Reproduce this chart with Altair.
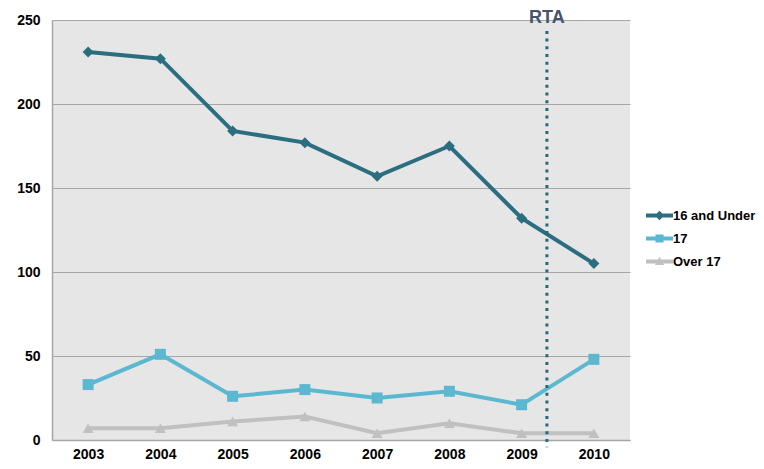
import altair as alt
import pandas as pd

years = [2003, 2004, 2005, 2006, 2007, 2008, 2009, 2010]
series_names = ["16 and Under", "17", "Over 17"]
under16 = [231, 227, 184, 177, 157, 175, 132, 105]
age17 = [33, 51, 26, 30, 25, 29, 21, 48]
over17 = [7, 7, 11, 14, 4, 10, 4, 4]
colors = ["#2a6e80", "#5bb8d0", "#c0c0c0"]
marker_shapes = ["diamond", "square", "triangle-up"]
legend_shapes = [
    "M-1,-0.15H1V0.15H-1Z M0,-0.36L0.36,0L0,0.36L-0.36,0Z",
    "M-1,-0.15H1V0.15H-1Z M-0.3,-0.3H0.3V0.3H-0.3Z",
    "M-1,-0.15H1V0.15H-1Z M0,-0.36L0.34,0.26L-0.34,0.26Z",
]
rta_x = 2009.35
rta_top = 243.5
rta_bottom = -4.3

rows = []
for name, vals in zip(series_names, [under16, age17, over17]):
    for y, v in zip(years, vals):
        rows.append({"year": y, "value": v, "series": name})
df = pd.DataFrame(rows)

legend_df = pd.DataFrame({"year": [2003] * 3, "value": [-500] * 3, "series": series_names})
rta_df = pd.DataFrame({"x": [rta_x], "y": [rta_top], "y2": [rta_bottom], "label": ["RTA"]})

xscale = alt.Scale(domain=[2002.5, 2010.5], nice=False, zero=False)
yscale = alt.Scale(domain=[0, 250], nice=False)
cscale = alt.Scale(domain=series_names, range=colors)

x_enc = alt.X("year:Q", scale=xscale, title=None,
              axis=alt.Axis(values=years, format="d", grid=False, ticks=False,
                            labelPadding=7))
y_enc = alt.Y("value:Q", scale=yscale, title=None,
              axis=alt.Axis(values=[0, 50, 100, 150, 200, 250], ticks=False,
                            labelPadding=12))

lines = alt.Chart(df).mark_line(strokeWidth=4).encode(
    x=x_enc, y=y_enc,
    color=alt.Color("series:N", scale=cscale, legend=None),
    detail="series:N",
)

points = alt.Chart(df).mark_point(filled=True, size=121, opacity=1).encode(
    x="year:Q", y="value:Q",
    color=alt.Color("series:N", scale=cscale, legend=None),
    shape=alt.Shape("series:N", scale=alt.Scale(domain=series_names, range=marker_shapes), legend=None),
)

legend_props = dict(title=None, orient="none", legendX=594, legendY=182,
                    symbolSize=729, labelFont="Liberation Sans",
                    labelFontWeight="bold", labelFontSize=13,
                    labelColor="#000000", labelOffset=0, rowPadding=2,
                    padding=0, symbolStrokeWidth=0)

legend_layer = alt.Chart(legend_df).mark_point(filled=True, clip=True, opacity=1).encode(
    x="year:Q", y="value:Q",
    color=alt.Color("series:N", scale=alt.Scale(domain=series_names, range=colors),
                    legend=alt.Legend(**legend_props)),
    shape=alt.Shape("series:N", scale=alt.Scale(domain=series_names, range=legend_shapes),
                    legend=alt.Legend(**legend_props)),
)

rta_rule = alt.Chart(rta_df).mark_rule(color="#24687a", strokeWidth=3, strokeDash=[3, 4.7]).encode(
    x="x:Q", y="y:Q", y2="y2:Q"
)

rta_text = alt.Chart(rta_df).mark_text(
    font="Liberation Sans", fontWeight="bold", fontSize=18, color="#44546a",
    baseline="alphabetic", align="center", dy=2.5
).encode(x="x:Q", y=alt.value(0), text="label:N")

chart = alt.layer(lines, points, legend_layer, rta_rule, rta_text).resolve_scale(
    shape="independent", color="independent"
).properties(
    width=578, height=420,
    autosize=alt.AutoSizeParams(type="none"),
    padding={"left": 44, "top": 12, "right": 126, "bottom": 21},
    background="#ffffff",
).configure_view(
    fill="#e6e6e6", stroke=None
).configure_axis(
    domainColor="#a6a6a6", domainWidth=1.5, gridColor="#a6a6a6", gridWidth=1.2,
    labelFont="Liberation Sans", labelFontWeight="bold", labelFontSize=14,
    labelColor="#000000",
)

chart.save("out.html", embed_options={"renderer": "svg", "actions": False})
